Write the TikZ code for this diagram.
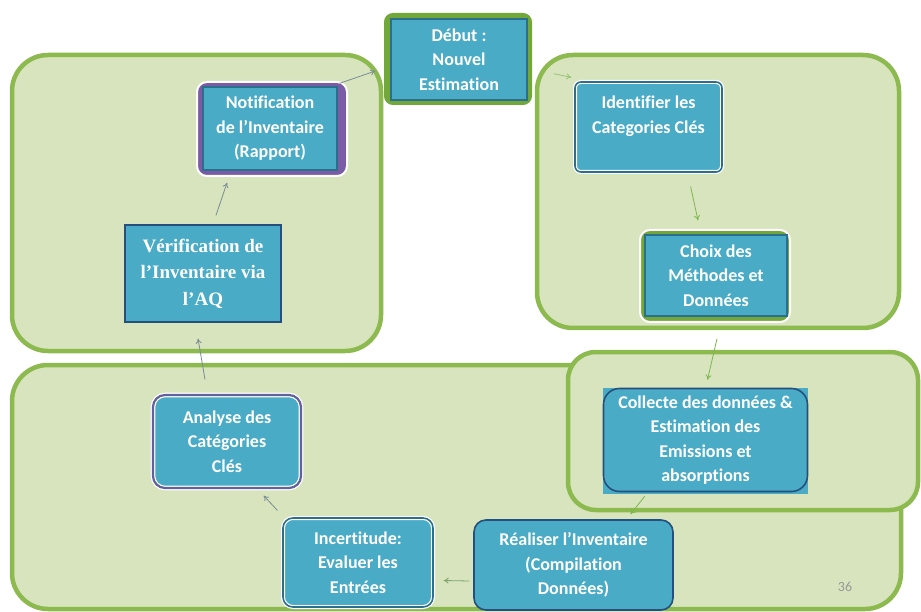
\documentclass[tikz,border=0pt]{standalone}
\usepackage{fontspec}
\setmainfont[Ligatures=NoCommon]{Carlito}
\newfontfamily\verifserif{Liberation Serif}
\usetikzlibrary{arrows.meta}
\definecolor{boxblue}{HTML}{49ABC6}
\definecolor{boxedge}{HTML}{2B6F8C}
\definecolor{navyedge}{HTML}{25507E}
\definecolor{purpedge}{HTML}{7B5AA6}
\definecolor{grpfill}{HTML}{D7E4BD}
\definecolor{grpline}{HTML}{8CBA4E}
\definecolor{outgreen}{HTML}{72A83A}
\definecolor{arrgray}{HTML}{7C8C94}
\definecolor{arrgreen}{HTML}{7DB64F}
\tikzset{
  group/.style={draw=grpline, fill=grpfill, line width=4.5pt, rounded corners=36pt},
  box/.style={fill=boxblue, draw=boxedge, line width=1.4pt, text=white,
    font=\bfseries\fontsize{18}{24.5}\selectfont, align=center, inner sep=0pt},
  halo/.style={draw=white, double=boxedge, line width=1.2pt, double distance=1.6pt},
  outerbox/.style={inner sep=0pt, line width=2pt, draw=white, rounded corners=10pt},
  arr/.style={-{To[length=5pt,width=6pt]}, line width=0.8pt},
}
\begin{document}
\begin{tikzpicture}[x=1pt,y=-1pt]
\useasboundingbox[fill=white] (0,0) rectangle (921,612);
% groups
\draw[group] (12,55) rectangle (381,351);
\draw[group] (537,55) rectangle (899,328);
\draw[group] (12,365) rectangle (901,609);
\draw[group, rounded corners=28pt] (568,352) rectangle (918,510);

% Debut
\node[outerbox, fill=outgreen, draw=outgreen, rounded corners=8pt, minimum width=146, minimum height=90] (debutbg) at (458,59) {};
\node[box, minimum width=136, minimum height=81] (debut) at (459,59.5) {Début :\\Nouvel\\Estimation};

% Notification
\node[outerbox, fill=purpedge, minimum width=150, minimum height=94] (notifbg) at (272,129) {};
\node[box, minimum width=134, minimum height=83] (notif) at (270,128.5) {Notification\\de l’Inventaire\\(Rapport)};

% Verification
\node[box, draw=navyedge, line width=1.2pt, minimum width=156, minimum height=97,
  font=\verifserif\bfseries\fontsize{19}{26.5}\selectfont] (verif) at (203,273.5) {Vérification de\\l’Inventaire via\\l’AQ};

% Identifier
\node[box, halo, rounded corners=6pt, minimum width=147, minimum height=90] (ident) at (648.5,127) {Identifier les\\Categories Clés\\\mbox{}};

% Choix
\node[outerbox, fill=outgreen, minimum width=150, minimum height=92] (choixbg) at (715,276) {};
\node[box, minimum width=142, minimum height=81] (choix) at (716,275.5) {Choix des\\Méthodes et\\Données};

% Collecte
\node[box, draw=none, minimum width=205, minimum height=106] (collectebg) at (705.5,441) {};
\node[box, draw=navyedge, line width=1.6pt, rounded corners=16pt, minimum width=204, minimum height=103] (collecte) at (705.5,440) {Collecte des données \&\\Estimation des\\Emissions et\\absorptions};

% Realiser
\node[box, draw=navyedge, line width=1.6pt, rounded corners=12pt, minimum width=199, minimum height=90] (realiser) at (573.5,565) {Réaliser l’Inventaire\\(Compilation\\Données)};

% Incertitude
\node[box, halo, rounded corners=10pt, minimum width=150, minimum height=89] (incert) at (358,562.5) {Incertitude:\\Evaluer les\\Entrées};

% Analyse
\node[box, draw=white, double=purpedge!70!boxedge, line width=1.2pt, double distance=2.2pt, rounded corners=12pt, minimum width=148, minimum height=93] (analyse) at (227,441.5) {Analyse des\\Catégories\\Clés};

% page number
\node[text=black!40, font=\fontsize{14}{16}\selectfont] (pnum) at (845,587) {36};

% arrows
\draw[arr, arrgray] ([shift={(2,-3)}]notif.north east) -- ([shift={(-15,11.5)}]debut.west);
\draw[arr, arrgreen!80!white] ([shift={(26,-27)}]debut.south east) -- ([shift={(-3,-4)}]ident.north west);
\draw[arr, arrgreen] ([shift={(-32,14)}]ident.south east) -- ([shift={(-18,-14)}]choix.north);
\draw[arr, arrgreen] ([shift={(1,22)}]choix.south) -- ([shift={(2,-8)}]collecte.north);
\draw[arr, arrgreen] ([shift={(42,4)}]collecte.south west) -- ([shift={(57,-5)}]realiser.north);
\draw[arr, arrgreen!60!arrgray] ([shift={(-4,16)}]realiser.west) -- ([shift={(10,18)}]incert.east);
\draw[arr, arrgray] ([shift={(-5,-7)}]incert.north west) -- ([shift={(-38,7)}]analyse.south east);
\draw[arr, arrgray] ([shift={(-22,-15)}]analyse.north) -- ([shift={(-5,16)}]verif.south);
\draw[arr, arrgray] ([shift={(13,-9)}]verif.north) -- ([shift={(-43,12)}]notif.south);
\end{tikzpicture}
\end{document}
